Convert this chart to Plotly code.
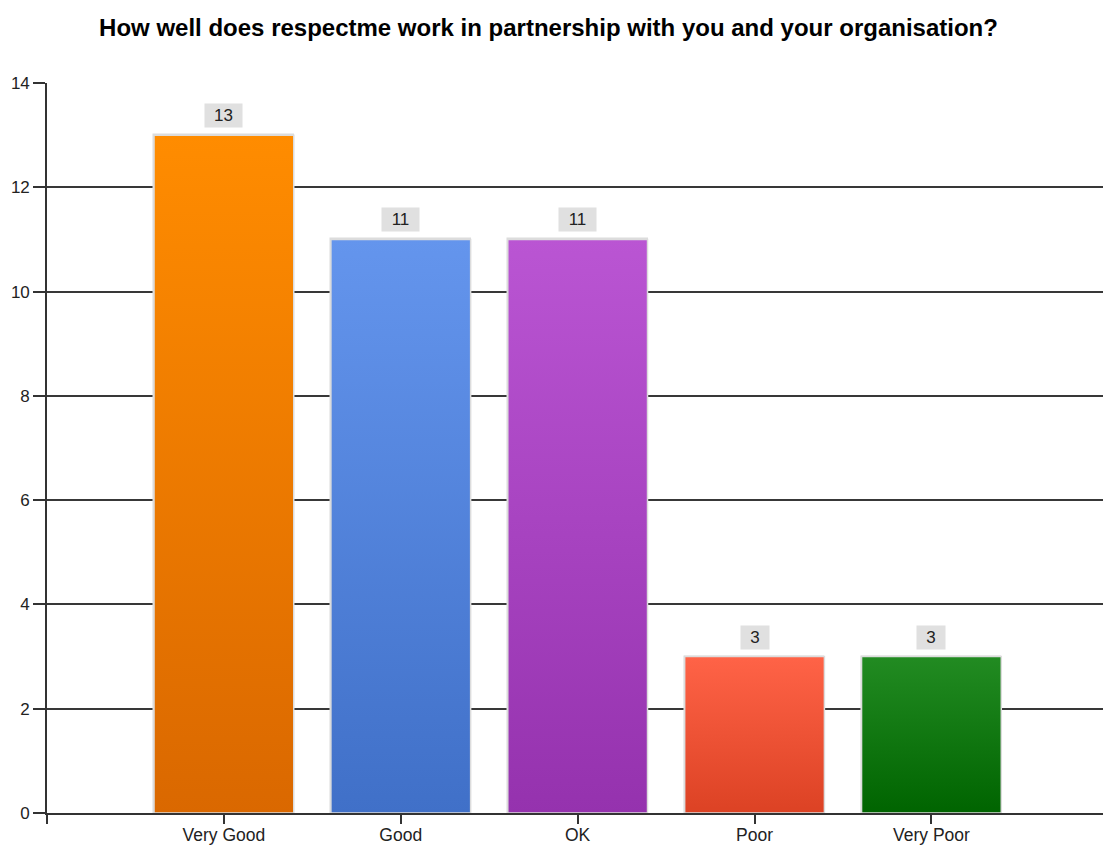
import plotly.graph_objects as go

categories = ["Very Good", "Good", "OK", "Poor", "Very Poor"]
values = [13, 11, 11, 3, 3]
top_colors = ["#FF8C00", "#6495ED", "#BA55D3", "#FF6347", "#228B22"]
bottom_colors = ["#DA6800", "#4070C8", "#9532AE", "#DC4224", "#006400"]
mid_colors = ["#EC7A00", "#5282DA", "#A843C1", "#EE5336", "#117711"]
y_ticks = [0, 2, 4, 6, 8, 10, 12, 14]

BAR_W = 0.79
xs = list(range(len(categories)))
FONT = "Liberation Sans, Arial"

fig = go.Figure()
fig.add_trace(go.Bar(
    x=xs, y=values, width=BAR_W,
    marker=dict(color=mid_colors, line=dict(color="#DCDCDC", width=1.5)),
    showlegend=False, hoverinfo="skip",
))

# gradient overlays, computed from the same data
for i, (v, tc, bc) in enumerate(zip(values, top_colors, bottom_colors)):
    x0, x1 = i - BAR_W / 2, i + BAR_W / 2
    fig.add_trace(go.Scatter(
        x=[x0, x1, x1, x0, x0], y=[0, 0, v, v, 0],
        mode="lines", fill="toself",
        fillgradient=dict(type="vertical", colorscale=[[0, bc], [1, tc]]),
        line=dict(color="#DCDCDC", width=1.5),
        showlegend=False, hoverinfo="skip",
    ))

for i, v in enumerate(values):
    t = str(v)
    fig.add_annotation(
        x=i, y=v, text=t, showarrow=False, xanchor="center", yanchor="bottom",
        yshift=7, bgcolor="#E0E0E0", borderpad=2, width=9 * len(t) + 15,
        font=dict(family=FONT, size=17, color="#222222"),
    )

fig.update_layout(
    width=1103, height=846,
    margin=dict(l=47, r=0, t=83, b=33, autoexpand=False),
    paper_bgcolor="white", plot_bgcolor="white",
    title=dict(
        text="<b>How well does respectme work in partnership with you and your organisation?</b>",
        x=0.4973, xanchor="center", y=0.967, yanchor="middle",
        font=dict(family=FONT, size=24, color="#000000"),
    ),
    font=dict(family=FONT, color="#222222"),
    bargap=0,
)

fig.update_xaxes(
    range=[-1, 4.97], automargin=False,
    tickmode="array", tickvals=[-1] + xs, ticktext=[""] + categories,
    ticks="outside", ticklen=9, tickwidth=1.5, tickcolor="#333333",
    ticklabelstandoff=-4,
    showline=True, linecolor="#333333", linewidth=1.6,
    showgrid=False, zeroline=False,
    tickfont=dict(family=FONT, size=17.5, color="#222222"),
)
fig.update_yaxes(
    range=[0, 14], automargin=False,
    tickmode="array", tickvals=y_ticks,
    ticks="outside", ticklen=12, tickwidth=1.5, tickcolor="#333333",
    showline=True, linecolor="#333333", linewidth=1.6,
    showgrid=True, gridcolor="#383838", gridwidth=1.6,
    zeroline=False,
    tickfont=dict(family=FONT, size=17, color="#222222"),
)

fig.write_html("out.html", config={"displayModeBar": False},
               post_script="document.body.style.margin='0';")
